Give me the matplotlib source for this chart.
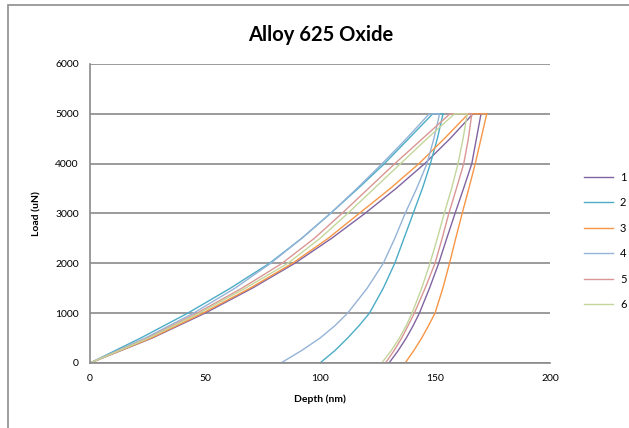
import matplotlib.pyplot as plt
from matplotlib.patches import Rectangle

plt.rcParams['font.family'] = ['Lato', 'DejaVu Sans']

# indentation runs: depth (nm) for loading, hold and unloading
series_names = ['1', '2', '3', '4', '5', '6']
series_colors = ['#8064A2', '#4BACC6', '#F79646', '#95B3D7', '#D99694', '#C3D69B']

load_levels = [0, 500, 1000, 1500, 2000, 2500, 3000, 3500, 4000, 4500, 5000]
unload_levels = [5000, 4500, 4000, 3500, 3000, 2500, 2000, 1500, 1000, 750, 500, 250, 0]

load_depth_1 = [0, 27, 50, 70.5, 89, 105, 119.5, 133, 145.5, 156.5, 166.5]
load_depth_2 = [0, 22, 42.5, 61, 78, 92, 104.5, 116.5, 128, 138.5, 149]
load_depth_3 = [0, 26.5, 49, 69.5, 88, 103.5, 117, 130.5, 143, 154, 164.5]
load_depth_4 = [0, 24, 45, 63, 78.5, 92, 104.5, 116, 127, 137.5, 147.5]
load_depth_5 = [0, 25, 46.5, 66, 83.5, 97.5, 109.5, 121, 132.5, 144.5, 156.5]
load_depth_6 = [0, 25.5, 47.5, 67.5, 86, 100, 112, 123.5, 135, 146.5, 158.5]

unload_depth_1 = [170, 168, 166, 162.4, 158.7, 155.1, 151.6, 147.6, 143.2, 140.5, 137.5, 134, 130]
unload_depth_2 = [153.5, 151, 148, 144.5, 140.5, 136.5, 132.5, 127.5, 121.5, 117, 112, 106.5, 100]
unload_depth_3 = [172.5, 170, 167.5, 164.7, 161.8, 159, 156.3, 153.4, 150, 147.2, 144.2, 140.8, 137]
unload_depth_4 = [152, 149.5, 146.5, 142, 137, 132.5, 127.5, 120.5, 112, 106.5, 100, 92, 83]
unload_depth_5 = [166, 164.5, 162.5, 159.3, 156, 153.1, 150, 145.7, 141, 138.3, 135.5, 132.2, 128.5]
unload_depth_6 = [164, 162.2, 160, 157.2, 154, 151, 147.8, 144.2, 140, 137.5, 134.5, 131, 126.8]

load_depths = [load_depth_1, load_depth_2, load_depth_3,
               load_depth_4, load_depth_5, load_depth_6]
unload_depths = [unload_depth_1, unload_depth_2, unload_depth_3,
                 unload_depth_4, unload_depth_5, unload_depth_6]

fig = plt.figure(figsize=(6.29, 4.28), dpi=100)
ax = fig.add_axes([90 / 629, 1 - 363 / 428, 460 / 629, 299 / 428])

# outer chart border (only left/top edges fall inside the image)
fig.patches.append(Rectangle((8 / 629, -0.1), 1.2, 1 - 5 / 428 + 0.1,
                             transform=fig.transFigure, fill=False,
                             edgecolor='#8c8c8c', linewidth=1.2))

for name, color, ld, ud in zip(series_names, series_colors, load_depths, unload_depths):
    # loading, hold at peak load, then unloading in one path
    x = ld + ud
    y = load_levels + unload_levels
    ax.plot(x, y, color=color, linewidth=1.0, label=name)

ax.set_xlim(0, 200)
ax.set_ylim(0, 6000)
ax.set_xticks([0, 50, 100, 150, 200])
ax.set_yticks(range(0, 6001, 1000))

ax.grid(axis='y', color='#8a8a8a', linewidth=1.2)
ax.set_axisbelow(True)
for side in ['top', 'right']:
    ax.spines[side].set_visible(False)
for side in ['left', 'bottom']:
    ax.spines[side].set_color('#8a8a8a')
    ax.spines[side].set_linewidth(1.2)
ax.tick_params(axis='y', length=0, pad=8, labelsize=7.5)
ax.tick_params(axis='x', length=0, pad=8, labelsize=7.5)

ax.set_xlabel('Depth (nm)', fontsize=7.5, fontweight='bold', labelpad=8)
ax.set_ylabel('Load (uN)', fontsize=7.5, fontweight='bold', labelpad=10)
fig.text(321 / 629, 1 - 35 / 428, 'Alloy 625 Oxide', fontsize=14.5,
         fontweight='bold', ha='center', va='center')

fig.legend(loc='center left', bbox_to_anchor=(580 / 629, 1 - 241 / 428),
           frameon=False, fontsize=8, handlelength=2.6, labelspacing=1.3,
           handletextpad=0.6, borderaxespad=0)

fig.savefig('out.png', dpi=100)
